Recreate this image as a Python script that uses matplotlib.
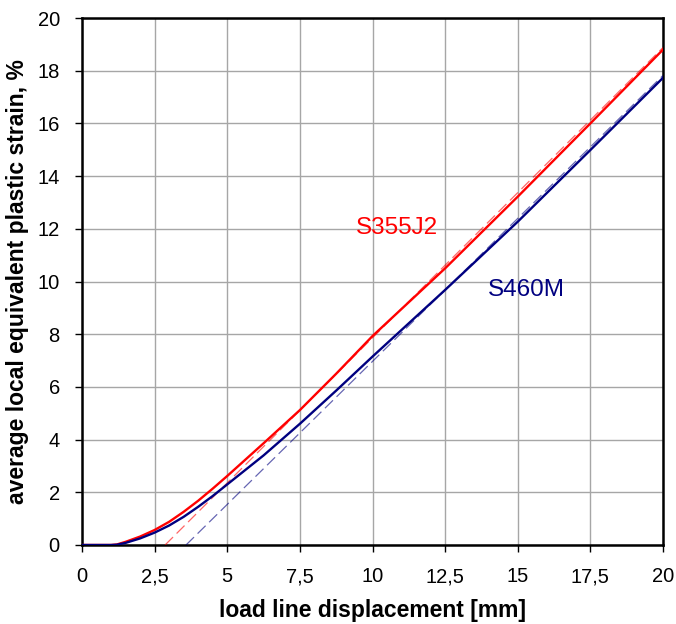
import matplotlib
matplotlib.use("Agg")
import matplotlib.pyplot as plt
import numpy as np

plt.rcParams['font.family'] = ['Liberation Sans', 'DejaVu Sans']

# data
x_disp = [0, 1.0, 1.2, 1.5, 2.0, 2.5, 3.0, 3.5, 4.0, 4.5, 5.0, 6.25, 7.5, 8.75, 10.0, 12.5, 15.0, 17.5, 20.0]
s355_strain = [0, 0, 0.02, 0.12, 0.32, 0.57, 0.88, 1.26, 1.68, 2.14, 2.62, 3.86, 5.12, 6.5, 7.93, 10.5, 13.22, 16.0, 18.8]
s460_strain = [0, 0, 0.01, 0.08, 0.25, 0.47, 0.74, 1.07, 1.45, 1.86, 2.3, 3.4, 4.6, 5.86, 7.15, 9.68, 12.27, 14.99, 17.73]

s355_fit_x = [2.86, 20.0]
s355_fit_y = [0.0, 18.88]
s460_fit_x = [3.58, 20.0]
s460_fit_y = [0.0, 17.82]

xticks = [0, 2.5, 5, 7.5, 10, 12.5, 15, 17.5, 20]
xtick_labels = ['0', '2,5', '5', '7,5', '10', '12,5', '15', '17,5', '20']
yticks = [0, 2, 4, 6, 8, 10, 12, 14, 16, 18, 20]

fig = plt.figure(figsize=(6.76, 6.24), dpi=100)
ax = fig.add_axes([82/676, 1-545/624, (663-82)/676, (545-18)/624])

red = '#ff0000'
navy = '#000080'

ax.plot(s355_fit_x, s355_fit_y, color=red, lw=0.9, alpha=0.6, dashes=(9, 4), zorder=3)
ax.plot(s460_fit_x, s460_fit_y, color=navy, lw=0.9, alpha=0.6, dashes=(9, 4), zorder=3)
ax.plot(x_disp, s355_strain, color=red, lw=1.7, zorder=4)
ax.plot(x_disp, s460_strain, color=navy, lw=1.7, zorder=4)

ax.set_xlim(0, 20)
ax.set_ylim(0, 20)
ax.set_xticks(xticks)
ax.set_xticklabels(xtick_labels)
ax.set_yticks(yticks)
ax.grid(True, color='#a6a6a6', lw=1.0)
ax.set_axisbelow(True)
for s in ax.spines.values():
    s.set_linewidth(1.8)
    s.set_color('black')
ax.tick_params(direction='out', length=5, width=1, labelsize=14.5, pad=11)

ax.set_xlabel('load line displacement [mm]', fontsize=16.5, fontweight='bold', labelpad=9)
ax.set_ylabel('average local equivalent plastic strain, %', fontsize=16.5, fontweight='bold', labelpad=6)

ax.text(10.84, 12.03, 'S355J2', color=red, fontsize=17.5, ha='center', va='center')
ax.text(15.3, 9.68, 'S460M', color=navy, fontsize=17.5, ha='center', va='center')

fig.savefig('out.png', dpi=100)
